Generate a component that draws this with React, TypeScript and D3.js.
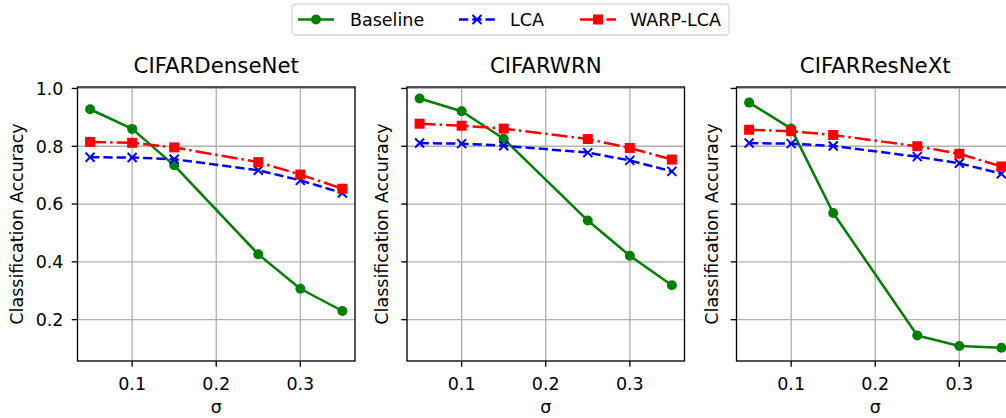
import React, { useEffect, useRef } from 'react';
import * as d3 from 'd3';

// noise levels on the x axis
const sigmas = [0.05, 0.1, 0.15, 0.25, 0.3, 0.35];

const panelTitles = ['CIFARDenseNet', 'CIFARWRN', 'CIFARResNeXt'];
const seriesNames = ['Baseline', 'LCA', 'WARP-LCA'];

// CIFARDenseNet
const denseBaseline = [0.928, 0.86, 0.734, 0.426, 0.307, 0.23];
const denseLCA = [0.762, 0.761, 0.755, 0.717, 0.682, 0.638];
const denseWarp = [0.815, 0.812, 0.796, 0.745, 0.702, 0.653];

// CIFARWRN
const wrnBaseline = [0.965, 0.921, 0.826, 0.543, 0.421, 0.319];
const wrnLCA = [0.811, 0.809, 0.802, 0.778, 0.751, 0.713];
const wrnWarp = [0.878, 0.871, 0.861, 0.825, 0.794, 0.754];

// CIFARResNeXt
const resBaseline = [0.951, 0.861, 0.569, 0.145, 0.109, 0.103];
const resLCA = [0.811, 0.809, 0.801, 0.764, 0.741, 0.705];
const resWarp = [0.857, 0.852, 0.839, 0.8, 0.774, 0.73];

const xTicks = [0.1, 0.2, 0.3];
const yTicks = [0.2, 0.4, 0.6, 0.8, 1.0];
const xDomain = [0.035, 0.365];
const yDomain = [0.057, 1.005];

const FONT = '"DejaVu Sans", sans-serif';
const FS = 17.5;

const styles = [
  { color: '#008000', dash: null, marker: 'circle' },
  { color: '#0000ff', dash: '9.25,4', marker: 'x' },
  { color: '#ff0000', dash: '16,4,2.5,4', marker: 'square' },
];

function drawMarker(g, kind, x, y, color) {
  if (kind === 'circle') {
    g.append('circle').attr('cx', x).attr('cy', y).attr('r', 5).attr('fill', color);
  } else if (kind === 'square') {
    g.append('rect').attr('x', x - 5).attr('y', y - 5).attr('width', 10).attr('height', 10).attr('fill', color);
  } else {
    g.append('path')
      .attr('d', `M${x - 4.5},${y - 4.5}L${x + 4.5},${y + 4.5}M${x - 4.5},${y + 4.5}L${x + 4.5},${y - 4.5}`)
      .attr('stroke', color)
      .attr('stroke-width', 2)
      .attr('fill', 'none');
  }
}

export default function App() {
  const ref = useRef(null);

  useEffect(() => {
    const svg = d3.select(ref.current);
    svg.selectAll('*').remove();

    const panels = [
      [denseBaseline, denseLCA, denseWarp],
      [wrnBaseline, wrnLCA, wrnWarp],
      [resBaseline, resLCA, resWarp],
    ];
    const lefts = [77.5, 407, 736.5];
    const w = 277.5;
    const top = 87;
    const bottom = 361;

    const y = d3.scaleLinear().domain(yDomain).range([bottom, top]);

    panels.forEach((series, pi) => {
      const left = lefts[pi];
      const x = d3.scaleLinear().domain(xDomain).range([left, left + w]);
      const g = svg.append('g');

      // grid
      xTicks.forEach((t) => {
        g.append('line')
          .attr('x1', x(t)).attr('x2', x(t))
          .attr('y1', top).attr('y2', bottom)
          .attr('stroke', '#b0b0b0').attr('stroke-width', 1.33);
      });
      yTicks.forEach((t) => {
        g.append('line')
          .attr('x1', left).attr('x2', left + w)
          .attr('y1', y(t)).attr('y2', y(t))
          .attr('stroke', '#b0b0b0').attr('stroke-width', 1.33);
      });

      // series
      series.forEach((vals, si) => {
        const st = styles[si];
        const pts = sigmas.map((s, i) => [x(s), y(vals[i])]);
        const line = d3.line();
        g.append('path')
          .attr('d', line(pts))
          .attr('fill', 'none')
          .attr('stroke', st.color)
          .attr('stroke-width', 2.5)
          .attr('stroke-dasharray', st.dash)
          .attr('stroke-linejoin', 'round');
        pts.forEach((p) => drawMarker(g, st.marker, p[0], p[1], st.color));
      });

      // spines
      g.append('rect')
        .attr('x', left).attr('y', top)
        .attr('width', w).attr('height', bottom - top)
        .attr('fill', 'none').attr('stroke', '#000').attr('stroke-width', 1.33);

      // x ticks
      xTicks.forEach((t) => {
        g.append('line')
          .attr('x1', x(t)).attr('x2', x(t))
          .attr('y1', bottom).attr('y2', bottom + 5.8)
          .attr('stroke', '#000').attr('stroke-width', 1.33);
        g.append('text')
          .attr('x', x(t)).attr('y', 390)
          .attr('text-anchor', 'middle')
          .attr('font-family', FONT).attr('font-size', FS)
          .text(d3.format('.1f')(t));
      });

      // y ticks
      yTicks.forEach((t) => {
        g.append('line')
          .attr('x1', left - 5.8).attr('x2', left)
          .attr('y1', y(t)).attr('y2', y(t))
          .attr('stroke', '#000').attr('stroke-width', 1.33);
        if (pi === 0) {
          g.append('text')
            .attr('x', left - 14).attr('y', y(t))
            .attr('dy', '0.36em')
            .attr('text-anchor', 'end')
            .attr('font-family', FONT).attr('font-size', FS)
            .text(d3.format('.1f')(t));
        }
      });

      // title
      g.append('text')
        .attr('x', left + w / 2).attr('y', 72.5)
        .attr('text-anchor', 'middle')
        .attr('font-family', FONT).attr('font-size', 21.3)
        .text(panelTitles[pi]);

      // axis labels
      g.append('text')
        .attr('x', left + w / 2).attr('y', 413)
        .attr('text-anchor', 'middle')
        .attr('font-family', FONT).attr('font-size', FS)
        .text('σ');

      const ly = (top + bottom) / 2;
      const lx = pi === 0 ? left - 55 : left - 19;
      g.append('text')
        .attr('transform', `translate(${lx},${ly}) rotate(-90)`)
        .attr('text-anchor', 'middle')
        .attr('font-family', FONT).attr('font-size', FS)
        .text('Classification Accuracy');
    });

    // legend
    const lg = svg.append('g');
    lg.append('rect')
      .attr('x', 292).attr('y', 4)
      .attr('width', 437).attr('height', 31)
      .attr('rx', 4)
      .attr('fill', '#fff').attr('stroke', '#d6d6d6').attr('stroke-width', 1.33);
    const handleX = [298, 459, 580];
    const textX = [350, 510, 630];
    seriesNames.forEach((name, i) => {
      const st = styles[i];
      lg.append('line')
        .attr('x1', handleX[i]).attr('x2', handleX[i] + 36)
        .attr('y1', 19.5).attr('y2', 19.5)
        .attr('stroke', st.color).attr('stroke-width', 2.5)
        .attr('stroke-dasharray', st.dash);
      drawMarker(lg, st.marker, handleX[i] + 18, 19.5, st.color);
      lg.append('text')
        .attr('x', textX[i]).attr('y', 26)
        .attr('font-family', FONT).attr('font-size', FS)
        .text(name);
    });
  }, []);

  return (
    <svg
      ref={ref}
      width={1006}
      height={418}
      style={{ position: 'absolute', left: 0, top: 0, background: '#fff' }}
    />
  );
}
